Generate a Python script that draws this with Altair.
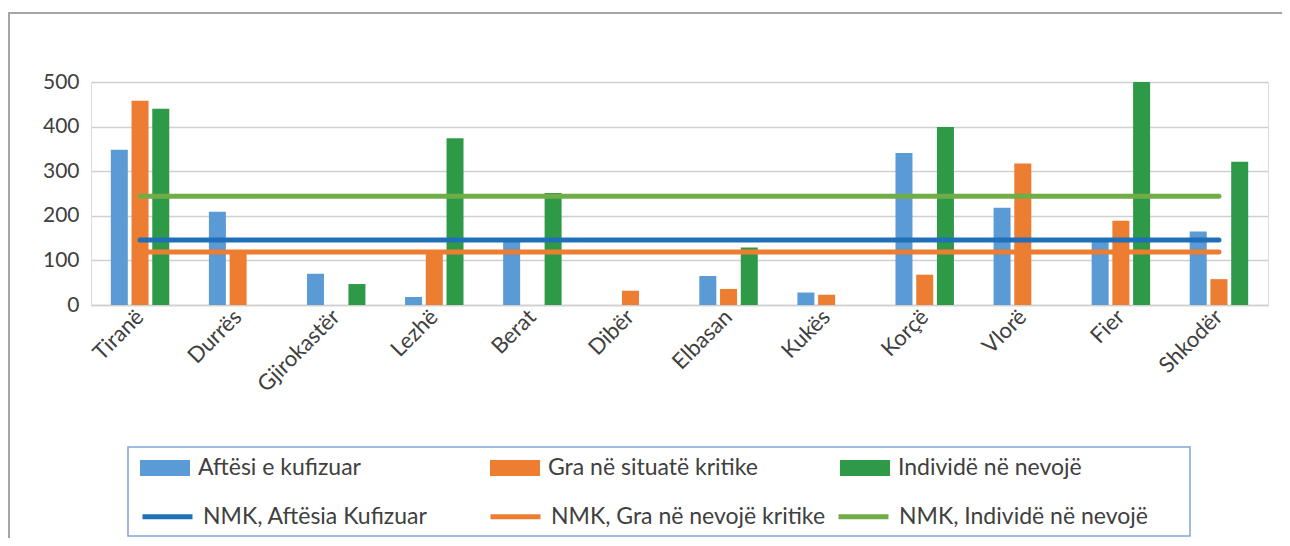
import altair as alt
import pandas as pd

# ---- data ----
categories = ["Tiranë", "Durrës", "Gjirokastër", "Lezhë", "Berat", "Dibër",
              "Elbasan", "Kukës", "Korçë", "Vlorë", "Fier", "Shkodër"]
bar_series = ["Aftësi e kufizuar", "Gra në situatë kritike", "Individë në nevojë"]
aftesi = [348, 209, 70, 18, 145, None, 65, 28, 341, 218, 145, 165]
gra = [458, 120, None, 120, None, 32, 36, 23, 68, 317, 189, 58]
individe = [440, None, 47, 374, 251, None, 129, None, 399, None, 500, 321]

line_series = ["NMK, Aftësia Kufizuar", "NMK, Gra në nevojë kritike", "NMK, Individë në nevojë"]
nmk_values = [146, 119, 244]

y_ticks = [0, 100, 200, 300, 400, 500]

bar_colors = ["#5B9BD5", "#ED7D31", "#2E9A47"]
line_colors = ["#1F70B8", "#ED7D31", "#70AD47"]

# ---- tables ----
bar_rows = []
for s, vals in zip(bar_series, [aftesi, gra, individe]):
    for c, v in zip(categories, vals):
        if v is not None:
            bar_rows.append({"Qarku": c, "Seria": s, "Vlera": v})
bars_df = pd.DataFrame(bar_rows)

line_rows = []
for s, v in zip(line_series, nmk_values):
    for c in categories:
        line_rows.append({"Qarku": c, "Seria": s, "Vlera": v})
lines_df = pd.DataFrame(line_rows)

FONT = "Lato"
W, H = 1177, 223

x_enc = alt.X("Qarku:N", sort=categories, title=None,
              scale=alt.Scale(paddingInner=0.404, paddingOuter=0.202),
              axis=alt.Axis(labelAngle=-45, labelAlign="right", labelBaseline="middle",
                            labelFontSize=22, labelFont=FONT, labelColor="#404040",
                            labelPadding=8, ticks=False, domainColor="#D0D0D0",
                            domainWidth=1.5, grid=False))
y_enc = alt.Y("Vlera:Q", title=None,
              scale=alt.Scale(domain=[0, 500], nice=False),
              axis=alt.Axis(values=y_ticks, labelFontSize=21, labelFont=FONT,
                            labelColor="#404040", labelPadding=12, ticks=False,
                            domain=False, gridColor="#D0D0D0", gridWidth=1.5))

bars = alt.Chart(bars_df).mark_bar().encode(
    x=x_enc,
    y=y_enc,
    xOffset=alt.XOffset("Seria:N", sort=bar_series,
                        scale=alt.Scale(domain=bar_series, paddingInner=0.18, paddingOuter=0)),
    fill=alt.Fill("Seria:N", sort=bar_series,
                  scale=alt.Scale(domain=bar_series, range=bar_colors),
                  legend=alt.Legend(title=None, orient="none", legendX=49, legendY=361,
                                    direction="horizontal", columns=3, gridAlign="all",
                                    columnPadding=82, padding=0,
                                    symbolType="M-1,-0.32H1V0.32H-1Z", symbolSize=2500,
                                    symbolStrokeWidth=0, symbolOpacity=1,
                                    labelFont=FONT, labelFontSize=23, labelColor="#404040",
                                    labelOffset=8, labelLimit=500)),
)

lines = alt.Chart(lines_df).mark_line(strokeWidth=5, strokeCap="round").encode(
    x=alt.X("Qarku:N", sort=categories),
    y=alt.Y("Vlera:Q"),
    stroke=alt.Stroke("Seria:N", sort=line_series,
                      scale=alt.Scale(domain=line_series, range=line_colors),
                      legend=alt.Legend(title=None, orient="none", legendX=49, legendY=407,
                                        direction="horizontal", columns=3, gridAlign="all",
                                        columnPadding=2, padding=0,
                                        symbolType="stroke", symbolSize=2500,
                                        symbolStrokeWidth=5,
                                        labelFont=FONT, labelFontSize=23, labelColor="#404040",
                                        labelOffset=8, labelLimit=500)),
)

one = pd.DataFrame({"k": [0]})
outer_border = alt.Chart(one).mark_rect(fill=None, stroke="#A6A6A6", strokeWidth=2).encode(
    x=alt.value(-82), x2=alt.value(1240), y=alt.value(-69), y2=alt.value(520))
legend_box = alt.Chart(one).mark_rect(fill=None, stroke="#7FA7D9", strokeWidth=1.5).encode(
    x=alt.value(37), x2=alt.value(1099), y=alt.value(365), y2=alt.value(454))

chart = alt.layer(outer_border, legend_box, bars, lines).properties(
    width=W, height=H,
    autosize=alt.AutoSizeParams(type="none"),
    padding={"left": 83, "top": 74, "right": 14, "bottom": 233},
).configure_view(stroke=None).configure(background="white")

chart.save("out.html", embed_options={"renderer": "svg", "actions": False})
